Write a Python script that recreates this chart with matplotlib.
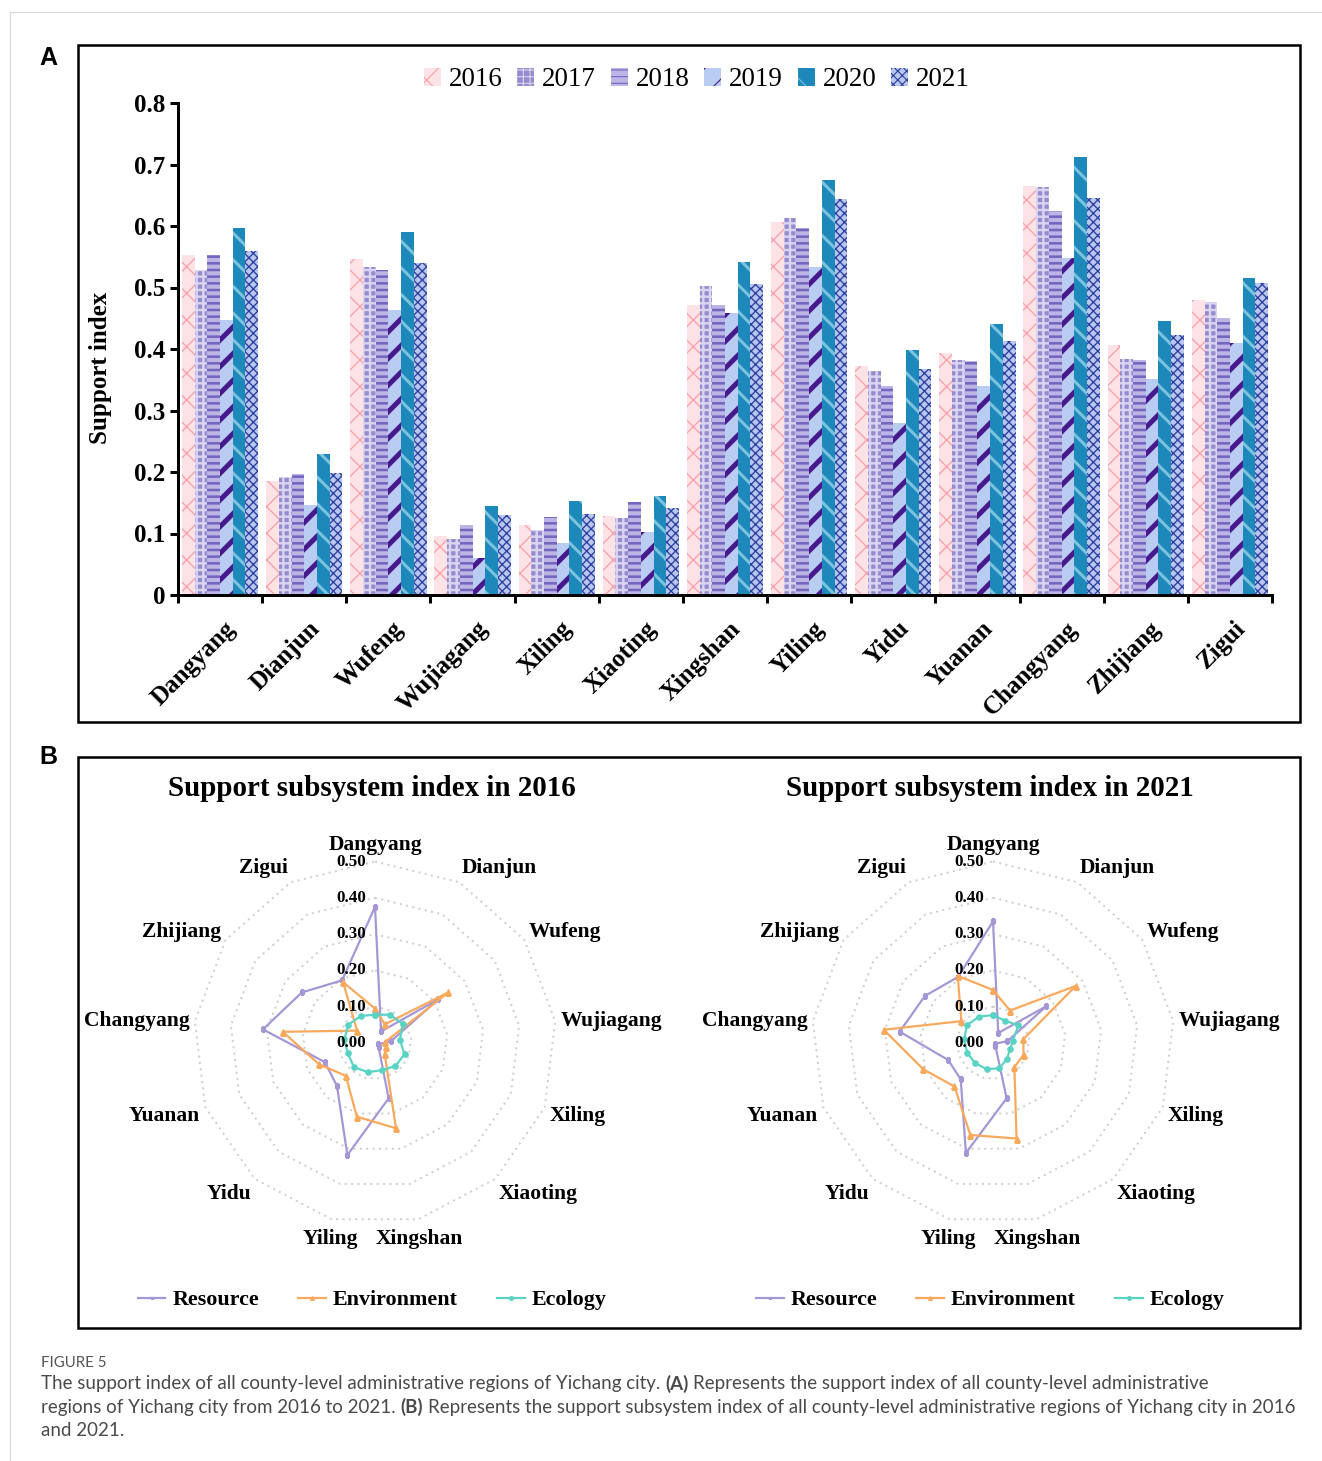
import numpy as np
import matplotlib
matplotlib.use("Agg")
import matplotlib.pyplot as plt
from matplotlib.patches import Rectangle
from matplotlib.lines import Line2D
from matplotlib.transforms import ScaledTranslation, blended_transform_factory

plt.rcParams["font.family"] = "serif"
plt.rcParams["font.serif"] = ["Liberation Serif", "DejaVu Serif"]

# ---------------------------------------------------------------- data
counties = ["Dangyang", "Dianjun", "Wufeng", "Wujiagang", "Xiling", "Xiaoting",
            "Xingshan", "Yiling", "Yidu", "Yuanan", "Changyang", "Zhijiang", "Zigui"]
years = ["2016", "2017", "2018", "2019", "2020", "2021"]

idx_2016 = [0.553, 0.186, 0.547, 0.096, 0.114, 0.129, 0.471, 0.607, 0.373, 0.394, 0.665, 0.407, 0.479]
idx_2017 = [0.529, 0.192, 0.534, 0.091, 0.106, 0.125, 0.502, 0.613, 0.365, 0.382, 0.663, 0.383, 0.477]
idx_2018 = [0.553, 0.196, 0.529, 0.114, 0.127, 0.152, 0.471, 0.597, 0.340, 0.380, 0.624, 0.382, 0.450]
idx_2019 = [0.447, 0.146, 0.464, 0.060, 0.084, 0.103, 0.458, 0.533, 0.279, 0.340, 0.548, 0.351, 0.410]
idx_2020 = [0.597, 0.229, 0.591, 0.145, 0.153, 0.161, 0.541, 0.674, 0.399, 0.440, 0.713, 0.446, 0.516]
idx_2021 = [0.560, 0.198, 0.540, 0.130, 0.132, 0.142, 0.506, 0.644, 0.368, 0.413, 0.646, 0.423, 0.507]

y_ticks = [0.0, 0.1, 0.2, 0.3, 0.4, 0.5, 0.6, 0.7, 0.8]
y_tick_labels = ["0", "0.1", "0.2", "0.3", "0.4", "0.5", "0.6", "0.7", "0.8"]

resource_2016 = [0.375, 0.036, 0.212, 0.045, 0.010, 0.015, 0.157, 0.318, 0.158, 0.148, 0.311, 0.245, 0.195]
environment_2016 = [0.095, 0.058, 0.246, 0.029, 0.033, 0.040, 0.242, 0.209, 0.121, 0.165, 0.256, 0.060, 0.189]
ecology_2016 = [0.078, 0.088, 0.093, 0.069, 0.087, 0.085, 0.077, 0.083, 0.088, 0.080, 0.085, 0.089, 0.084]

resource_2021 = [0.335, 0.031, 0.179, 0.040, 0.005, 0.010, 0.157, 0.312, 0.134, 0.132, 0.259, 0.228, 0.206]
environment_2021 = [0.146, 0.101, 0.277, 0.084, 0.090, 0.089, 0.271, 0.261, 0.160, 0.205, 0.303, 0.106, 0.209]
ecology_2021 = [0.077, 0.070, 0.085, 0.055, 0.050, 0.058, 0.072, 0.074, 0.074, 0.076, 0.080, 0.087, 0.082]

radar_ticks = [0.0, 0.1, 0.2, 0.3, 0.4, 0.5]
subsystems = ["Resource", "Environment", "Ecology"]

# ---------------------------------------------------------------- page setup
DPI = 80
W, H = 1322, 1461
fig = plt.figure(figsize=(W / DPI, H / DPI), dpi=DPI, facecolor="white")


def pt(px):
    return px * 72.0 / DPI


def fx(x):
    return x / W


def fy(y):
    return 1.0 - y / H


SERIF = ["Liberation Serif", "DejaVu Serif"]
SANS = "Liberation Sans"
CAPTION_FONT = "Lato"

# thin page edges
fig.add_artist(Line2D([fx(10), 1.0], [fy(12), fy(12)], transform=fig.transFigure,
                      color="#d9d9d9", lw=pt(1.2)))
fig.add_artist(Line2D([fx(10), fx(10)], [fy(12), 0.0], transform=fig.transFigure,
                      color="#d9d9d9", lw=pt(1.2)))

# panel frames
for (x0, y0, x1, y1) in [(78, 45, 1300, 722), (78, 757, 1300, 1328)]:
    fig.add_artist(Rectangle((fx(x0), fy(y1)), fx(x1) - fx(x0), fy(y0) - fy(y1),
                             transform=fig.transFigure, fill=False,
                             lw=pt(2.5), ec="black"))

fig.text(fx(48), fy(58), "A", family=SANS, weight="bold", fontsize=pt(25),
         ha="center", va="center")
fig.text(fx(48), fy(757), "B", family=SANS, weight="bold", fontsize=pt(25),
         ha="center", va="center")

# ---------------------------------------------------------------- panel A: bars
ax = fig.add_axes([fx(178), fy(595), (1272 - 178) / W, (595 - 103) / H])
ax.set_xlim(-0.5, len(counties) - 0.5)
ax.set_ylim(0, 0.8)
for s in ["top", "right"]:
    ax.spines[s].set_visible(False)
for s in ["left", "bottom"]:
    ax.spines[s].set_linewidth(pt(3))

bar_styles = [
    dict(fc="#fde2e6", ec="#f6a0aa", hatch="x", hlw=1.3),
    dict(fc="#968bcf", ec="#d9d5f1", hatch="++", hlw=2.4),
    dict(fc="#bdb5e5", ec="#7366bf", hatch="--", hlw=2.6),
    dict(fc="#b9cdf2", ec="#47198c", hatch="/", hlw=5.0),
    dict(fc="#1d89bb", ec="#7dc2de", hatch="\\", hlw=3.0),
    dict(fc="#b8c6f0", ec="#2a3e9e", hatch="xxx", hlw=1.3),
]
series = [idx_2016, idx_2017, idx_2018, idx_2019, idx_2020, idx_2021]
width = 0.151
pos = np.arange(len(counties))
containers = []
for k, (vals, st, yr) in enumerate(zip(series, bar_styles, years)):
    with plt.rc_context({"hatch.linewidth": pt(st["hlw"])}):
        bc = ax.bar(pos + (k - 2.5) * width, vals, width=width, color=st["fc"],
                    edgecolor=st["ec"], linewidth=0, hatch=st["hatch"], label=yr,
                    zorder=2)
    for p in bc.patches:
        if hasattr(p, "set_hatch_linewidth"):
            p.set_hatch_linewidth(pt(st["hlw"]))
    containers.append(bc)

ax.set_yticks(y_ticks)
ax.set_yticklabels(y_tick_labels, family=SERIF, weight="bold", fontsize=pt(25))
ax.tick_params(axis="y", direction="out", length=pt(8), width=pt(3), pad=pt(5))
ax.set_xticks(np.arange(-0.5, len(counties), 1.0))
ax.set_xticklabels([])
ax.tick_params(axis="x", direction="out", length=pt(8), width=pt(3))

lab_tr = blended_transform_factory(ax.transData, ax.transAxes) + \
    ScaledTranslation(12 / DPI, -30 / DPI, fig.dpi_scale_trans)
for i, name in enumerate(counties):
    ax.text(i, 0, name, transform=lab_tr, rotation=45, rotation_mode="anchor",
            ha="right", va="center", family=SERIF, weight="bold", fontsize=pt(25))

fig.text(fx(101), fy(368), "Support index", rotation=90, family=SERIF,
         weight="bold", fontsize=pt(25), ha="center", va="center")

leg = ax.legend(handles=containers, labels=years, loc="center",
                bbox_to_anchor=(fx(697), fy(80)), bbox_transform=fig.transFigure,
                ncol=6, frameon=False,
                prop=dict(family=SERIF, weight="normal", size=pt(27)),
                handlelength=0.62, handleheight=0.62, handletextpad=0.3,
                columnspacing=0.55, borderaxespad=0)

# ---------------------------------------------------------------- panel B: radars
PX_PER_UNIT = 363.0
RMAX = 0.62
RAD_PX = RMAX * PX_PER_UNIT
line_colors = ["#a596d6", "#f8a95c", "#5ad3c4"]
line_markers = ["s", "^", "o"]
marker_sizes = [4.0, 5.5, 5.5]
LABEL_RX = 0.515 * PX_PER_UNIT   # horizontal reach of county labels, px
LABEL_RY = 0.55 * PX_PER_UNIT    # vertical reach of county labels, px

theta = np.arange(len(counties)) * 2 * np.pi / len(counties)
theta_c = np.append(theta, theta[0])


def radar(cx, cy, title, values):
    rax = fig.add_axes([fx(cx - RAD_PX), fy(cy + RAD_PX), 2 * RAD_PX / W, 2 * RAD_PX / H],
                       projection="polar")
    rax.set_theta_zero_location("N")
    rax.set_theta_direction(-1)
    rax.set_ylim(0, RMAX)
    rax.set_axis_off()
    for r in radar_ticks[1:]:
        rax.plot(theta_c, np.full(theta_c.shape, r), color="#cfcfcf",
                 lw=pt(2.0), ls=(0, (1, 2.2)), zorder=1)
    handles = []
    for vals, col, mk, ms, name in zip(values, line_colors, line_markers,
                                       marker_sizes, subsystems):
        v = np.append(vals, vals[0])
        h, = rax.plot(theta_c, v, color=col, lw=pt(2.2), marker=mk,
                      markersize=pt(ms), zorder=3, label=name)
        handles.append(h)
    for r in radar_ticks:
        rax.annotate(f"{r:.2f}", xy=(0, r), xytext=(-pt(9), 0),
                     textcoords="offset points", ha="right", va="center",
                     family=SERIF, weight="bold", fontsize=pt(17), zorder=4,
                     annotation_clip=False)
    for th, name in zip(theta, counties):
        s, c = np.sin(th), np.cos(th)
        ha = "center" if abs(s) < 0.3 else ("left" if s > 0 else "right")
        rax.annotate(name, xy=(0, 0), xytext=(pt(LABEL_RX * s), pt(LABEL_RY * c - 2)),
                     textcoords="offset points", ha=ha, va="center", family=SERIF,
                     weight="bold", fontsize=pt(21.5), annotation_clip=False)
    fig.text(fx(cx - 3), fy(789), title, ha="center", va="center", family=SERIF,
             weight="bold", fontsize=pt(29))
    fig.legend(handles=handles, labels=subsystems, loc="center",
               bbox_to_anchor=(fx(cx - 3), fy(1300)), ncol=3, frameon=False,
               prop=dict(family=SERIF, weight="bold", size=pt(22)),
               handlelength=1.25, handletextpad=0.3, columnspacing=1.8,
               markerscale=0.7)
    return rax


radar(375, 1043, "Support subsystem index in 2016",
      [resource_2016, environment_2016, ecology_2016])
radar(993, 1043, "Support subsystem index in 2021",
      [resource_2021, environment_2021, ecology_2021])

# ---------------------------------------------------------------- caption
renderer = fig.canvas.get_renderer()
CAP_PX = 18.7
CAP_COLOR = "#4a4a4a"


def text_width(s, bold=False):
    t = fig.text(0, 0, s, fontsize=pt(CAP_PX), family=CAPTION_FONT,
                 weight="bold" if bold else "normal")
    w = t.get_window_extent(renderer).width
    t.remove()
    return w


space_w = text_width("a a") - text_width("aa")


def rich_line(x_px, y_px, segments):
    x = x_px
    for i, (txt, bold) in enumerate(segments):
        if i > 0:
            x += space_w
        t = fig.text(fx(x), fy(y_px), txt, fontsize=pt(CAP_PX), family=CAPTION_FONT,
                     weight="bold" if bold else "normal", color=CAP_COLOR,
                     ha="left", va="center")
        x += t.get_window_extent(renderer).width


fig.text(fx(41), fy(1363), "FIGURE 5", fontsize=pt(15), family=CAPTION_FONT,
         color="#555555", ha="left", va="center")
rich_line(41, 1384, [("The support index of all county-level administrative regions of Yichang city.", False),
                     ("(A)", True),
                     ("Represents the support index of all county-level administrative", False)])
rich_line(41, 1407, [("regions of Yichang city from 2016 to 2021.", False),
                     ("(B)", True),
                     ("Represents the support subsystem index of all county-level administrative regions of Yichang city in 2016", False)])
rich_line(41, 1430, [("and 2021.", False)])

fig.savefig("out.png", dpi=DPI, facecolor="white")
